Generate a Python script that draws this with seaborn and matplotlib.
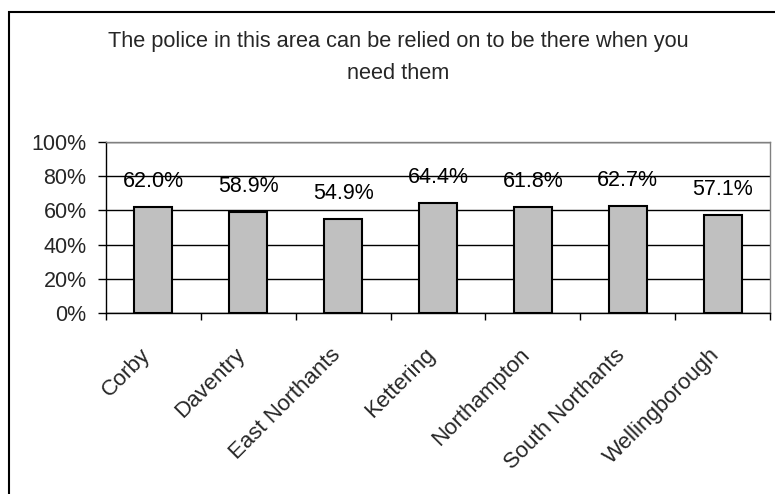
import matplotlib
matplotlib.use("Agg")
import matplotlib.pyplot as plt
import matplotlib.transforms as mtransforms
import seaborn as sns
import pandas as pd
from matplotlib.patches import Rectangle
from matplotlib.ticker import PercentFormatter

areas = ["Corby", "Daventry", "East Northants", "Kettering",
         "Northampton", "South Northants", "Wellingborough"]
agree_pct = [62.0, 58.9, 54.9, 64.4, 61.8, 62.7, 57.1]
y_ticks = [0, 20, 40, 60, 80, 100]
title_lines = ["The police in this area can be relied on to be there when you",
               "need them"]

df = pd.DataFrame({"area": areas, "pct": agree_pct})

sns.set_theme(style="white")
plt.rcParams["font.family"] = ["Liberation Sans", "DejaVu Sans"]

W, H, DPI = 775, 494, 100
fig = plt.figure(figsize=(W / DPI, H / DPI), dpi=DPI)

# chart-area frame (runs off the right and bottom edges)
fig.add_artist(Rectangle((8.5 / W, -0.1), 1.2, (H - 12) / H + 0.1,
                         transform=fig.transFigure, fill=False,
                         edgecolor="black", linewidth=1.5))

left, right, top, bottom = 106, 770, 142, 313
ax = fig.add_axes([left / W, 1 - bottom / H, (right - left) / W, (bottom - top) / H])

sns.barplot(data=df, x="area", y="pct", ax=ax, color="#C0C0C0",
            edgecolor="black", linewidth=1.5, width=0.4, saturation=1)

ax.set_ylim(0, 100)
ax.set_xlim(-0.5, len(areas) - 0.5)
ax.set_yticks(y_ticks)
ax.yaxis.set_major_formatter(PercentFormatter(decimals=0))
ax.grid(axis="y", color="black", linewidth=1)
ax.set_axisbelow(True)
ax.set_xlabel("")
ax.set_ylabel("")

for side in ("top", "right"):
    ax.spines[side].set_color("#808080")
    ax.spines[side].set_linewidth(1)
for side in ("left", "bottom"):
    ax.spines[side].set_color("black")
    ax.spines[side].set_linewidth(1)

# category boundary ticks on the x axis
ax.set_xticks([i + 0.5 for i in range(-1, len(areas))], minor=True)
ax.tick_params(axis="x", which="minor", length=5, width=1, color="black",
               direction="out", bottom=True)
ax.tick_params(axis="x", which="major", length=0, pad=28)
ax.tick_params(axis="y", which="major", length=6, width=1, color="black",
               direction="out", left=True, labelsize=15.5, pad=8)

ax.set_xticks(range(len(areas)))
ax.set_xticklabels(areas, rotation=45, ha="right", va="center",
                   rotation_mode="anchor", fontsize=16)
shift = mtransforms.ScaledTranslation(-6 / DPI, 0, fig.dpi_scale_trans)
for lbl in ax.get_xticklabels():
    lbl.set_transform(lbl.get_transform() + shift)

for i, v in enumerate(agree_pct):
    ax.annotate(f"{v:.1f}%", (i, v), xytext=(0, 18.5), textcoords="offset points",
                ha="center", va="center", fontsize=15.5, color="black")

title_x = 398 / W
fig.text(title_x, 1 - 47 / H, title_lines[0], ha="center", va="baseline", fontsize=15.7)
fig.text(title_x, 1 - 79 / H, title_lines[1], ha="center", va="baseline", fontsize=15.7)

fig.savefig("out.png", dpi=DPI)
